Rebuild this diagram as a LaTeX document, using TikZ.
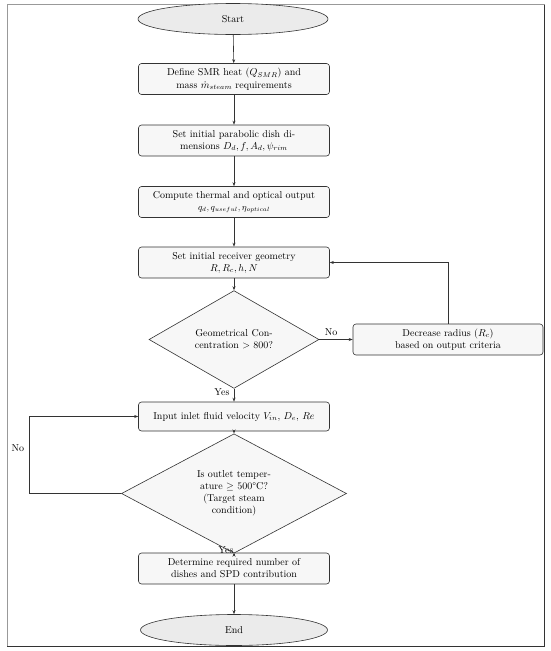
\documentclass[tikz,border=0pt]{standalone}
\usetikzlibrary{shapes.geometric,arrows.meta}
\begin{document}
\begin{tikzpicture}[x=1pt,y=-1pt,
  line/.style={draw=black!80, line width=0.6pt},
  arr/.style={line, -{Stealth[length=4pt,width=3pt]}},
  procbox/.style={draw=black!80, line width=0.6pt, fill=black!3, rounded corners=3pt, minimum width=191pt, minimum height=31pt, align=center, inner sep=1pt},
  term/.style={ellipse, draw=black!80, line width=0.6pt, fill=black!8, minimum width=190pt, minimum height=31pt, inner sep=0pt},
  decision/.style={diamond, draw=black!80, line width=0.6pt, fill=black!3, align=center, inner sep=0pt},
  lbl/.style={inner sep=1pt}
]
\useasboundingbox (0,0) rectangle (550,651);
\draw[black!40, line width=1pt] (7,4.5) rectangle (544,646);
\draw[black!80, line width=1.4pt] (544.5,4.5) -- (544.5,646.5) -- (7,646.5);

\node[term] (start) at (233,19) {Start};
\node[procbox] (b1) at (234,79) {Define SMR heat ($Q_{SMR}$) and\\[0.5pt]mass $\dot{m}_{steam}$ requirements};
\node[procbox] (b2) at (234,140.5) {Set initial parabolic dish di-\\mensions $D_d, f, A_d, \psi_{rim}$};
\node[procbox] (b3) at (234,202) {Compute thermal and optical output\\{\small$q_d, q_{useful}, \eta_{optical}$}};
\node[procbox] (b4) at (234,262.5) {Set initial receiver geometry\\$R, R_c, h, N$};
\node[decision, minimum width=170pt, minimum height=85pt] (d1) at (234,339.5) {Geometrical Con-\\centration $>$ 800?};
\node[procbox, minimum width=190pt] (dec) at (448,339.5) {Decrease radius ($R_c$)\\based on output criteria};
\node[procbox, minimum height=29pt] (b5) at (234,416.5) {Input inlet fluid velocity $V_{in}$, $D_e$, $Re$};
\node[decision, minimum width=225pt, minimum height=115pt] (d2) at (234,493.5) {Is outlet temper-\\ature $\geq$ 500\textdegree C?\\(Target steam\\condition)};
\node[procbox] (b6) at (234,568.5) {Determine required number of\\dishes and SPD contribution};
\node[term, minimum width=187pt] (end) at (234,630) {End};

\draw[arr] (start) -- (b1);
\draw[arr] (b1) -- (b2);
\draw[arr] (b2) -- (b3);
\draw[arr] (b3) -- (b4);
\draw[arr] (b4) -- (d1);
\draw[arr] (d1.east) -- (dec.west);
\node[lbl] (no1) at (331,332) {No};
\draw[arr] (dec.north) |- (b4.east);
\draw[arr] (d1.south) -- (b5.north);
\node[lbl] (yes1) at (222,392) {Yes};
\draw[arr] (b5.south) -- (d2.north);
\coordinate (loopc) at (29,493.5);
\draw[arr] (d2.west) -- (loopc) |- (b5.west);
\node[lbl] (no2) at (18,448) {No};
\draw[arr] (d2.south) -- (b6.north);
\node[lbl] (yes2) at (226,550) {Yes};
\draw[arr] (b6) -- (end);
\end{tikzpicture}
\end{document}
